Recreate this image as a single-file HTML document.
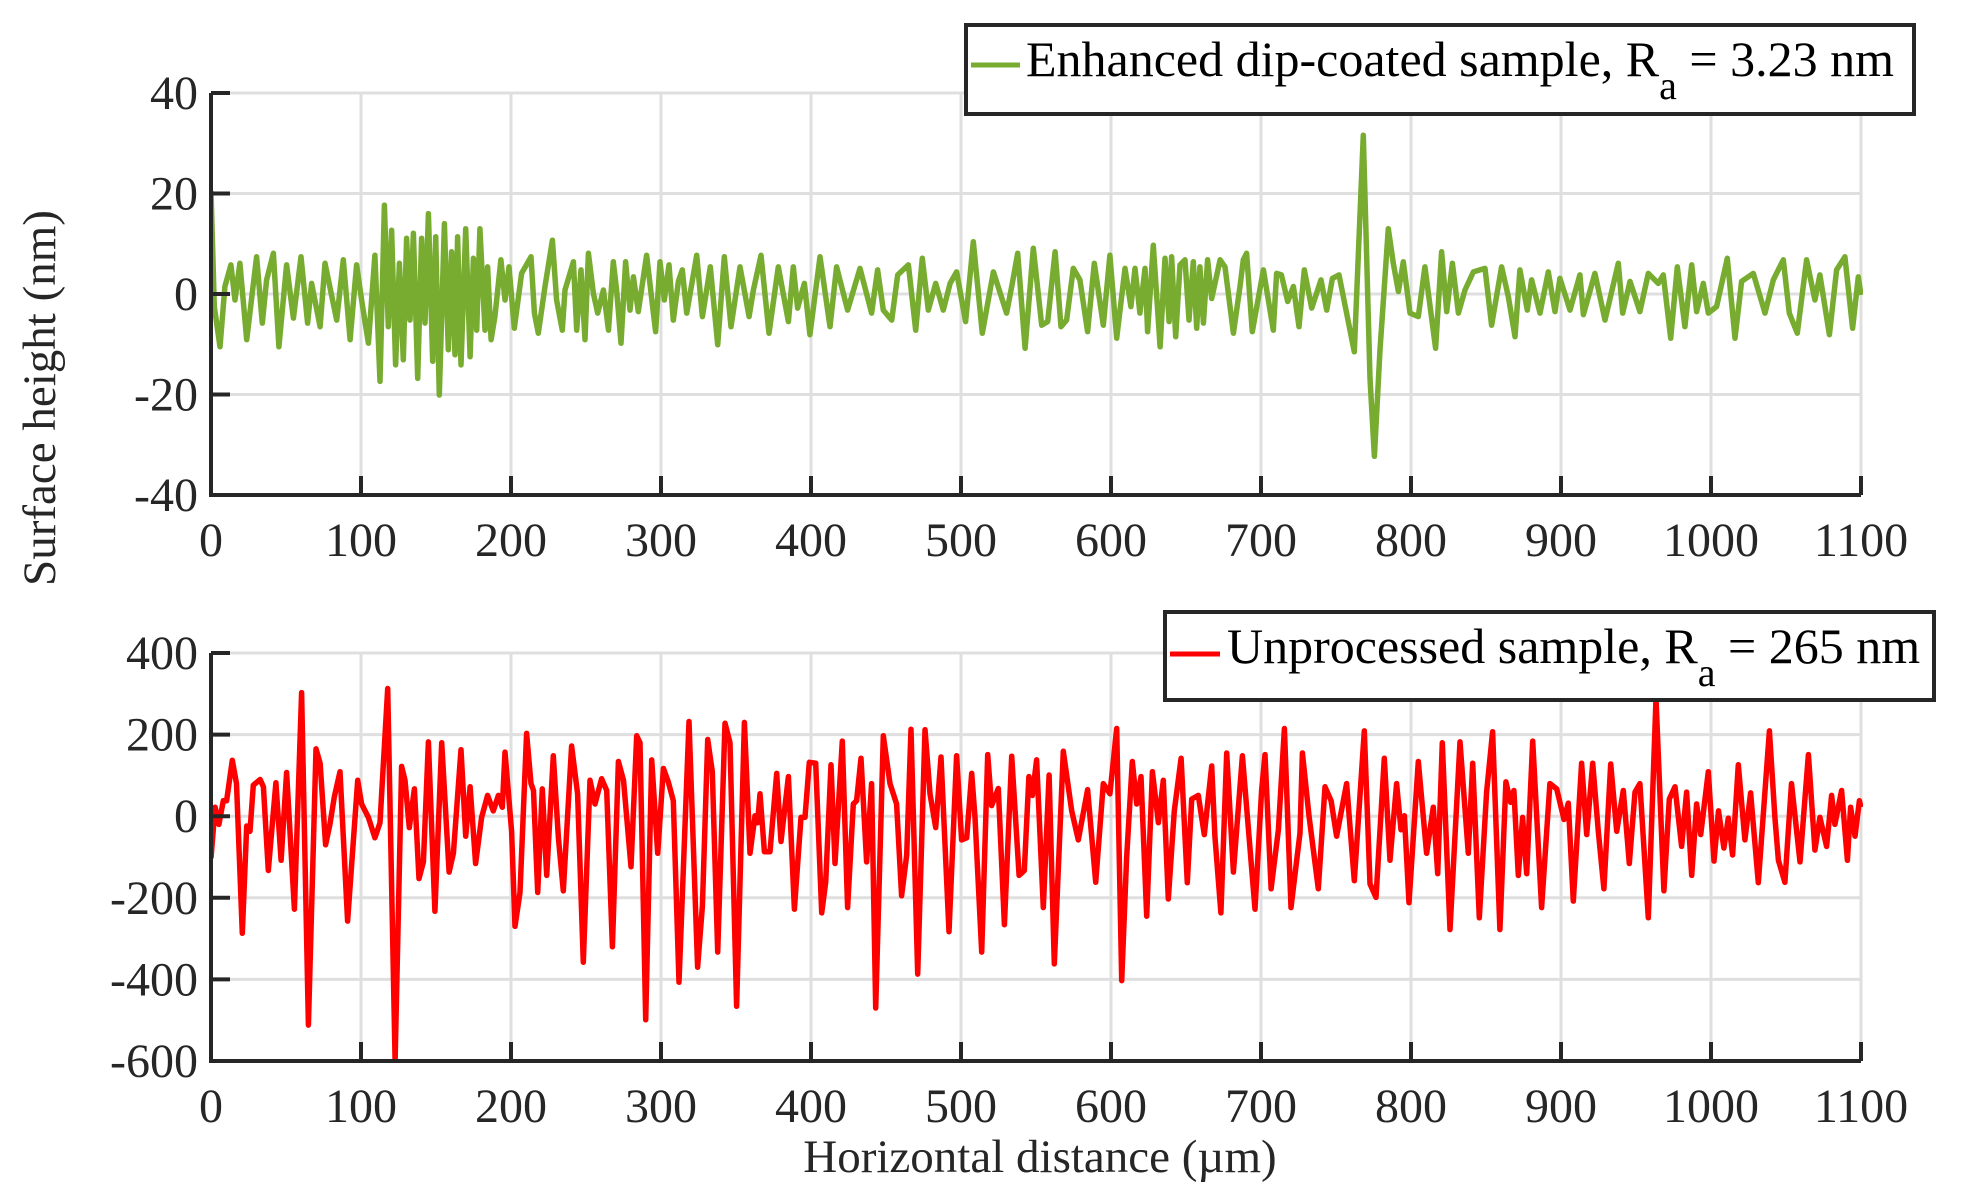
<!DOCTYPE html>
<html><head><meta charset="utf-8"><title>Surface height profiles</title>
<style>
html,body{margin:0;padding:0;background:#fff;}
svg{display:block;}
svg text{font-family:"Liberation Serif","Times New Roman",serif;}
</style></head>
<body>
<svg id="chart" xmlns="http://www.w3.org/2000/svg" width="1963" height="1203" viewBox="0 0 1963 1203" font-family="Liberation Serif, serif">
<rect x="0" y="0" width="1963" height="1203" fill="#fff"/>
<g id="top-panel"></g>
<g id="bottom-panel"></g>
<text x="0" y="0" transform="translate(55,398) rotate(-90)" text-anchor="middle" font-size="47" fill="#262626" font-family="Liberation Serif, serif">Surface height (nm)</text>
<text x="1040" y="1172" text-anchor="middle" font-size="47" fill="#262626" font-family="Liberation Serif, serif">Horizontal distance (µm)</text>
<g>
<rect x="966" y="25" width="948" height="89" fill="#fff" stroke="#262626" stroke-width="4"/>
<line x1="971" y1="65" x2="1020" y2="65" stroke="#77AC30" stroke-width="5"/>
<text x="1026" y="76" font-size="50" fill="#000" font-family="Liberation Serif, serif">Enhanced dip-coated sample, R<tspan dy="23" font-size="40">a</tspan><tspan dy="-23"> = 3.23 nm</tspan></text>
</g>
<g>
<rect x="1165" y="612" width="769" height="88" fill="#fff" stroke="#262626" stroke-width="4"/>
<line x1="1170" y1="654" x2="1220" y2="654" stroke="#FF0000" stroke-width="5"/>
<text x="1227" y="663" font-size="50" fill="#000" font-family="Liberation Serif, serif">Unprocessed sample, R<tspan dy="23" font-size="40">a</tspan><tspan dy="-23"> = 265 nm</tspan></text>
</g>
</svg>
<script>
const xTicks = [0,100,200,300,400,500,600,700,800,900,1000,1100];
const topYTicks = [40,20,0,-20,-40];
const bottomYTicks = [400,200,0,-200,-400,-600];

const greenX = [0,2.2,6,9.3,13.3,16,19.3,23.8,30.4,34.2,37.1,41.6,45.3,50.4,54.9,60,64.4,67.1,72.7,76,83.8,88.2,92.7,97.1,100.4,104.9,109.3,112.7,115.6,118.2,120.4,123.1,125.6,128.2,130.4,132.7,134.9,137.8,140.4,142.7,144.9,147.8,149.8,152.2,155.6,158.2,160.4,162.7,164.4,166.7,169.8,172.7,174.9,177.1,179.3,182.7,184.4,186.7,189.3,193.3,196,198.7,202.2,207.1,213.3,215.6,218.2,222.7,227.6,230.4,234.2,236,241.6,243.8,246.7,249.3,251.6,254.9,257.8,261.6,265,268.2,270.4,273.3,276.4,279.3,281.6,284.9,290.4,296.4,299.3,302.2,305.3,308.2,311.6,314.2,317.1,320,323.8,327.6,332.9,337.8,342.2,346.7,352.7,358.7,361.6,366.7,372,378.2,384.9,388.2,391.1,395.6,399.3,406,412.7,417.1,424.4,432.7,440.4,444.4,448.2,453.8,457.8,464.9,469.8,474.2,478.2,483.1,488.2,492.7,497.1,503.1,508.2,514.2,518.2,521.6,530.4,534.2,537.8,542.7,548.2,553.8,557.8,562.7,566.7,570.4,574.9,579.3,584.4,588.9,594.9,599.3,603.8,609.3,613.3,616,619.3,622.7,624.4,628.2,632.7,636,638.7,640.4,643.1,646,649.3,652,654.9,657.1,659.3,661.6,664.4,667.1,672.7,676,681.6,686,688.2,690.4,694.2,701.6,708.2,710.4,713.6,717.8,721.6,725.3,728.9,733.8,740,743.8,747.6,752,757.1,762.2,768.2,772.7,775.6,779.3,784.9,788.2,791.6,794.9,799.3,804.9,809.3,816.4,820.4,823.8,827.6,831.6,836,841.6,849.3,853.7,860.4,864.9,869.3,872.6,877.5,880.4,886,891.5,896,899.3,906,912.6,914.9,922.6,929.3,938.2,941.1,946,952.6,958.2,964.9,968.2,973.1,977.5,982.6,987.1,990.4,994.9,998.2,1003.7,1010.9,1016,1020.4,1028.2,1036,1041.5,1048.2,1052.2,1057.5,1063.7,1069.3,1072.6,1078.9,1083.7,1089.3,1094.4,1098.2,1100];
const greenY = [20.5,-2.5,-10.5,1.5,5.8,-1.2,6.1,-9.1,7.4,-5.8,2.8,8.1,-10.5,5.8,-4.8,7.4,-5.8,2.1,-6.5,6.1,-5.2,6.8,-9.1,5.8,-1.2,-9.8,7.7,-17.4,17.7,-6.5,12.7,-14.1,6.1,-13.1,11.1,-5.2,12.1,-16.8,11.1,-5.8,16,-13.4,11.4,-20.1,14,-11.1,8.4,-12.1,11.4,-14.1,13,-12.5,7.1,-7.2,13,-7.2,5.4,-9.1,-4.5,6.8,-1.2,5.4,-6.8,4.1,7.4,-3.8,-7.8,1.5,10.7,-1.2,-7.2,0.8,6.4,-7.2,4.8,-9.1,8.1,0.1,-3.8,0.8,-7.2,6.4,0.8,-9.8,6.4,-3.2,3.4,-3.5,7.7,-7.5,6.4,-1.2,5.8,-5.2,2.5,4.8,-3.8,1.1,7.7,-4.5,5.4,-10.1,7.4,-6.5,5.4,-4.5,0.8,7.7,-7.8,5.4,-5.5,5.4,-2.8,2.1,-8.1,7.4,-6.5,5.4,-3.2,5.1,-3.8,4.8,-3.2,-5.2,3.8,5.8,-7.2,7.1,-3.2,2.1,-3.2,2.1,4.4,-5.5,10.4,-7.8,-1.2,4.4,-3.8,2.1,8.1,-10.8,9.1,-6.2,-5.5,8.4,-6.5,-5.2,5.1,2.8,-7.5,6.1,-6.2,7.7,-8.8,5.1,-2.5,5.1,-3.8,5.1,-7.5,9.7,-10.5,7.1,-5.5,7.4,-8.5,5.8,6.8,-5.2,6.4,-6.8,5.4,-5.8,6.8,-0.9,6.8,5.4,-7.8,1.5,6.8,8.1,-7.5,4.8,-7.2,4.1,3.8,-1.5,1.5,-6.5,4.8,-2.8,2.8,-3.2,3.1,3.8,-3.8,-11.5,31.6,-16.8,-32.3,-11.1,13,6.1,0.5,6.4,-3.8,-4.5,5.4,-10.8,8.4,-3.5,6.1,-3.8,0.8,4.4,5.1,-6.2,5.4,-0.5,-8.5,4.8,-3.2,2.8,-3.8,4.4,-3.5,3.1,-3.2,3.8,-4.1,4.1,-5.2,6.1,-3.8,2.5,-3.5,4.1,2.1,3.8,-8.8,5.4,-6.5,5.8,-3.5,2.1,-3.8,-2.5,7.1,-8.8,2.5,4.1,-3.8,2.8,6.8,-3.8,-7.8,6.8,-1.2,3.8,-8.1,4.8,7.4,-6.8,3.4,-0.2];

const redX = [0,2.7,5.3,8.2,10.4,14.2,17,20.9,23.8,26,28.2,32.7,34.9,38.2,43.3,46.7,50.4,55.6,60.4,64.9,70,72.7,76.4,79.3,82.2,86,91.1,97.8,100.4,104.9,109.3,112.7,117.8,122.7,127.1,129.3,132.2,135.6,138.7,141.6,144.9,149.3,153.8,158.7,161.6,166.7,169.8,172.7,176.4,180.4,184.4,188.2,191.6,194.2,196,200.4,202.7,206,210.4,213.3,215,217.8,220.9,223.8,228.2,231.6,234.9,240.4,244.4,248.2,252.7,256,260.4,263.8,267.6,271.6,275,280,283.8,286,289.8,293.8,297.8,301.6,304.9,308.2,312,318.7,324.4,327.6,331.1,334.2,337.8,342.7,346,350.4,355.6,359.3,362.7,364.4,366,368.9,372.7,377.1,380,384.9,388.9,393.3,396,398.9,403.1,407.1,409.8,413.3,416,420.9,424.4,428.2,430.4,433.3,437.1,440.4,443.1,448.2,452.7,457.1,460.4,463.8,466.7,471.1,476,479.3,483.1,486.7,492,497.1,500.4,503.8,507.1,509.3,513.8,517.8,520.4,524.9,528.9,533.8,538.7,542.2,545.3,547.6,550.4,554.9,558.7,562.2,568.2,573.8,578.2,584.4,589.8,594.9,599.3,603.8,607.1,610.4,614.2,617.1,620,623.8,627.6,631.6,634.9,638.2,642.2,646.7,650.9,653.8,658.2,662.2,667.1,669.3,673.3,677.1,681.6,687.6,696,700.4,702.7,706.7,711.6,715.6,720,726,727.6,732,738.2,742.7,746.7,750.4,757.1,762.2,768.9,772.7,776.7,782.2,786,790.4,793.3,795.6,798.7,804.9,810.4,814.9,817.8,820.9,826,832.7,838.2,841.1,845.5,850.4,854.4,859.3,863.3,866.4,868.6,871.5,874.4,877.1,881.1,887.1,892.6,897.1,902,904.9,908.2,913.7,917.1,921.1,924.9,928.6,933.1,937.1,941.5,945.5,949.3,952.6,958.2,963.3,968.6,972.2,976,980.4,983.7,987.1,990.4,993.1,998.2,1002,1005,1008.6,1011.5,1014.4,1018.2,1022.6,1026.4,1031.5,1038.9,1042.6,1044.9,1049.3,1053.7,1059.3,1064.9,1069.3,1072.6,1077.1,1080.4,1082.6,1087.1,1090.9,1093.1,1096,1098.9,1100];
const redY = [-103,22,-20,38,38,137,80,-287,-24,-37,76,90,72,-133,82,-108,107,-228,303,-512,165,130,-70,-20,47,109,-257,88,30,-3,-53,-16,313,-600,122,88,-28,67,-153,-112,182,-233,180,-137,-91,163,-49,72,-116,-3,51,13,51,22,157,-37,-270,-187,203,80,63,-187,67,-145,148,-53,-183,172,55,-358,88,30,92,63,-320,134,88,-124,197,180,-499,138,-91,117,84,38,-407,232,-370,-220,188,109,-333,228,180,-466,230,-91,1,-16,55,-87,-87,105,-62,97,-228,-3,-3,132,130,-237,-162,126,-116,184,-224,30,38,142,-112,80,-470,197,80,30,-195,-95,213,-387,212,55,-28,145,-283,148,-58,-53,105,-3,-333,151,26,68,-266,147,-145,-133,97,51,138,-224,101,-362,159,13,-58,65,-162,80,55,215,-403,-103,134,30,97,-245,109,-16,88,-203,13,142,-163,42,51,-45,123,-49,-237,155,-137,148,-228,63,151,-178,-33,215,-224,-41,155,1,-178,72,38,-49,80,-158,209,-166,-199,142,-108,80,-33,1,-212,134,-91,22,-141,180,-278,182,-91,130,-249,59,207,-278,84,34,63,-145,-3,-141,184,-224,80,67,-8,32,-208,130,-45,130,-37,-178,128,-37,63,-116,59,80,-249,288,-183,42,72,-74,59,-145,30,-45,109,-110,13,-78,-5,-95,126,-58,57,-163,209,-3,-108,-162,80,-112,151,-83,-3,-74,51,-20,63,-108,22,-49,38,22];

const NS = 'http://www.w3.org/2000/svg';
const X0 = 211, X1 = 1861;
function xScale(v){ return X0 + (v - 0) / 1100 * (X1 - X0); }
function makeY(vmin, vmax, ybot, ytop){ return function(v){ return ybot - (v - vmin) / (vmax - vmin) * (ybot - ytop); }; }
const yTop = makeY(-40, 40, 495, 93);
const yBot = makeY(-600, 400, 1061, 653);

function el(tag, attrs, parent){
  const e = document.createElementNS(NS, tag);
  for (const k in attrs) e.setAttribute(k, attrs[k]);
  parent.appendChild(e);
  return e;
}

function drawPanel(g, yFn, yTicks, ytop, ybot, xs, ys, color, name){
  xTicks.forEach(function(t){
    const ln = el('line', {x1: xScale(t), x2: xScale(t), y1: ytop, y2: ybot, stroke: '#dfdfdf', 'stroke-width': 3}, g);
    
    
  });
  yTicks.forEach(function(t){
    const ln = el('line', {x1: X0, x2: X1, y1: yFn(t), y2: yFn(t), stroke: '#dfdfdf', 'stroke-width': 3}, g);
    
    
  });
  let d = '';
  for (let i = 0; i < xs.length; i++){
    d += (i ? 'L' : 'M') + xScale(xs[i]).toFixed(1) + ' ' + yFn(ys[i]).toFixed(1);
  }
  const clipId = name + '-clip';
  const cp = el('clipPath', {id: clipId}, g);
  el('rect', {x: X0, y: ytop - 2, width: X1 - X0 + 2, height: ybot - ytop + 2}, cp);
  const path = el('path', {d: d, fill: 'none', stroke: color, 'stroke-width': 5.5, 'stroke-linejoin': 'round', 'clip-path': 'url(#' + clipId + ')'}, g);
  
  
  const ax = el('path', {d: 'M' + X0 + ' ' + ytop + 'V' + ybot + 'H' + X1, fill: 'none', stroke: '#262626', 'stroke-width': 4}, g);
  
  
  xTicks.forEach(function(t){
    const tk = el('line', {x1: xScale(t), x2: xScale(t), y1: ybot, y2: ybot - 19, stroke: '#262626', 'stroke-width': 4}, g);
    
    
    const lb = el('text', {x: xScale(t), y: ybot + 61, 'text-anchor': 'middle', 'font-size': 48, fill: '#262626', 'font-family': 'Liberation Serif, serif'}, g);
    
    
    lb.textContent = String(t);
  });
  yTicks.forEach(function(t){
    const tk = el('line', {x1: X0, x2: X0 + 19, y1: yFn(t), y2: yFn(t), stroke: '#262626', 'stroke-width': 4}, g);
    
    
    const lb = el('text', {x: 198, y: yFn(t) + 16, 'text-anchor': 'end', 'font-size': 48, fill: '#262626', 'font-family': 'Liberation Serif, serif'}, g);
    
    
    lb.textContent = String(t);
  });
}

drawPanel(document.getElementById('top-panel'), yTop, topYTicks, 93, 495, greenX, greenY, '#77AC30', 'enhanced-series');
drawPanel(document.getElementById('bottom-panel'), yBot, bottomYTicks, 653, 1061, redX, redY, '#FF0000', 'unprocessed-series');
</script>
</body></html>
